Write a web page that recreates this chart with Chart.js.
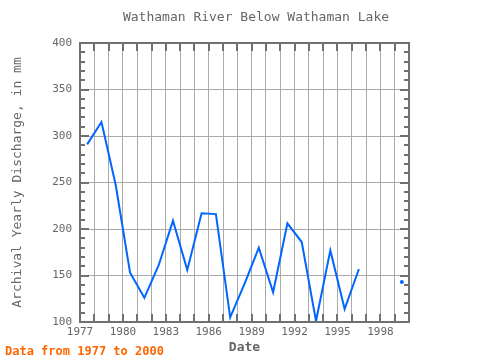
<!DOCTYPE html>
<html><head><meta charset="utf-8">
<script src="https://cdn.jsdelivr.net/npm/chart.js@4"></script>
<style>html,body{margin:0;padding:0;background:#fff}</style>
</head><body>
<canvas id="c" width="480" height="360"></canvas>
<script>
const years = [1977,1978,1979,1980,1981,1982,1983,1984,1985,1986,1987,1988,1989,1990,1991,1992,1993,1994,1995,1996,1997,1998,1999];
const discharge = [291,315,247,153,126,161,209,156,217,216,105,141,180,132,206,186,101,177,114,157,null,null,143];
const xTickLabels = [1977,1980,1983,1986,1989,1992,1995,1998];
const yTickLabels = [100,150,200,250,300,350,400];
const titleText = 'Wathaman River Below Wathaman Lake';
const yTitle = 'Archival Yearly Discharge, in mm';
const xTitle = 'Date';
const footText = 'Data from 1977 to 2000';

const FONT = "'DejaVu Sans Mono', monospace";
const GRAY = '#666666';
const BORDER = '#707070';

const points = years.map((y, i) => ({x: y + 0.5, y: discharge[i]}));

const decor = {
  id: 'decor',
  afterDatasetsDraw(chart) {
    const {ctx, chartArea: a, scales: {x, y}} = chart;
    ctx.save();
    ctx.strokeStyle = BORDER;
    ctx.lineWidth = 2;
    ctx.beginPath();
    for (let v = 100; v <= 400; v += 10) {
      const py = Math.round(y.getPixelForValue(v));
      const len = v % 50 === 0 ? 9 : 5;
      ctx.moveTo(a.left, py); ctx.lineTo(a.left + len, py);
      ctx.moveTo(a.right, py); ctx.lineTo(a.right - len, py);
    }
    for (let v = 1977; v <= 2000; v++) {
      const px = Math.round(x.getPixelForValue(v));
      ctx.moveTo(px, a.top); ctx.lineTo(px, a.top + 8);
      ctx.moveTo(px, a.bottom); ctx.lineTo(px, a.bottom - 8);
    }
    ctx.stroke();
    ctx.strokeRect(a.left, a.top, a.right - a.left, a.bottom - a.top);
    ctx.textBaseline = 'middle';
    ctx.fillStyle = GRAY;
    ctx.font = '13px ' + FONT;
    ctx.textAlign = 'center';
    ctx.fillText(titleText, 256, 18);
    ctx.fillStyle = '#ff6600';
    ctx.font = 'bold 12px ' + FONT;
    ctx.textAlign = 'left';
    ctx.fillText(footText, 5, 352);
    ctx.restore();
  }
};

new Chart(document.getElementById('c'), {
  type: 'line',
  data: {
    datasets: [{
      data: points,
      borderColor: '#0066ff',
      backgroundColor: '#0066ff',
      borderWidth: 2,
      spanGaps: false,
      tension: 0,
      pointRadius: (c) => {
        const d = c.dataset.data, i = c.dataIndex;
        if (!d[i] || d[i].y === null) return 0;
        const p = d[i-1], n = d[i+1];
        const iso = (!p || p.y === null) && (!n || n.y === null);
        return iso ? 2 : 0;
      },
      pointBorderWidth: 0
    }]
  },
  options: {
    responsive: false,
    animation: false,
    layout: {padding: {left: 0, right: 71, top: 43, bottom: 0}},
    plugins: {
      legend: {display: false},
      tooltip: {enabled: false},
      title: {display: false}
    },
    scales: {
      x: {
        type: 'linear', min: 1977, max: 2000,
        afterBuildTicks: (s) => { const t = []; for (let v = 1977; v <= 2000; v++) t.push({value: v}); s.ticks = t; },
        afterFit: (s) => { s.height = 38; },
        ticks: {autoSkip: false, maxRotation: 0, padding: 4, color: GRAY,
          font: {family: FONT, size: 11},
          callback: (v) => xTickLabels.includes(v) ? String(v) : ''},
        grid: {color: '#aaaaaa', lineWidth: 1, drawTicks: false},
        border: {display: false},
        title: {display: true, text: xTitle, color: GRAY,
          font: {family: FONT, size: 13, weight: 'bold'}, padding: {top: 0, bottom: 5}}
      },
      y: {
        min: 100, max: 400,
        afterBuildTicks: (s) => { s.ticks = yTickLabels.map(v => ({value: v})); },
        afterFit: (s) => { s.width = 80; },
        ticks: {padding: 8, color: GRAY, font: {family: FONT, size: 11}},
        grid: {color: '#aaaaaa', lineWidth: 1, drawTicks: false},
        border: {display: false},
        title: {display: true, text: yTitle, color: GRAY,
          font: {family: FONT, size: 13, weight: 'normal'}, padding: {top: 10, bottom: 0}}
      }
    }
  },
  plugins: [decor]
});
</script>
</body></html>
